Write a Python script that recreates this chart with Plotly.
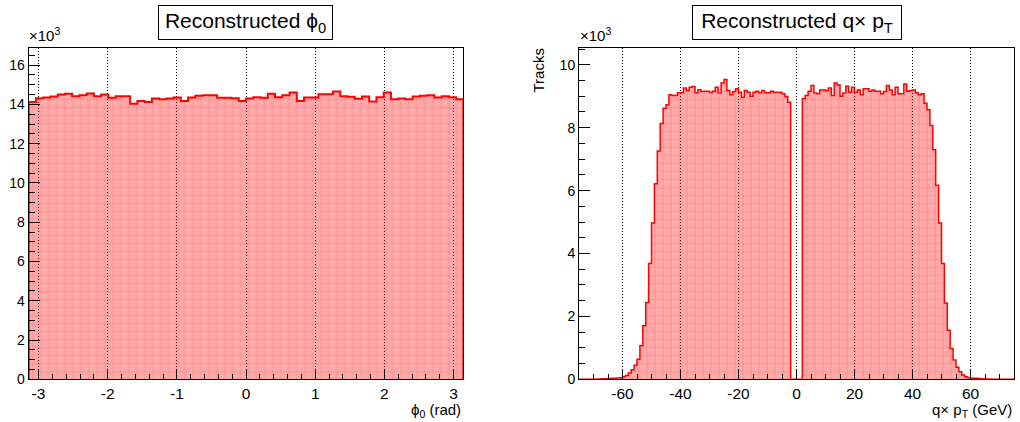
import math
import plotly.graph_objects as go

# ---- reconstructed phi0: 60 bins over [-pi, pi], counts in units of 10^3 tracks
phi0_nbins = 60
phi0_counts_k = [
    14.13, 14.32, 14.35, 14.40, 14.51, 14.54, 14.42, 14.47, 14.56, 14.42,
    14.51, 14.34, 14.42, 14.42, 14.03, 14.18, 14.13, 14.30, 14.27, 14.30,
    14.35, 14.17, 14.35, 14.44, 14.47, 14.47, 14.34, 14.34, 14.32, 14.17,
    14.30, 14.37, 14.34, 14.54, 14.37, 14.47, 14.61, 14.17, 14.35, 14.35,
    14.52, 14.52, 14.66, 14.42, 14.39, 14.29, 14.40, 14.15, 14.37, 14.61,
    14.27, 14.30, 14.27, 14.40, 14.44, 14.47, 14.35, 14.42, 14.37, 14.27,
]
phi0_ticks = [-3, -2, -1, 0, 1, 2, 3]
phi0_ticklabels = ["-3", "-2", "-1", "0", "1", "2", "3"]

# ---- reconstructed q x pT: 1 GeV bins over [-75, 75], counts in units of 10^3 tracks
qpt_low, qpt_high = -75, 75
qpt_counts_k = (
    # -75 .. -70
    [0, 0, 0, 0, 0, 0]
    # -69 .. -45
    + [0.01, 0.01, 0.02, 0.02, 0.02, 0.03, 0.03, 0.04, 0.05, 0.08,
       0.12, 0.20, 0.30, 0.45, 0.64, 1.07, 1.70, 2.44, 3.68, 4.97,
       6.22, 7.26, 8.13, 8.62, 8.73]
    # -44 .. -3
    + [9.05, 9.02, 9.02, 9.11, 9.11, 9.26, 9.18, 9.29, 9.31, 9.11,
       9.21, 9.16, 9.16, 9.16, 9.12, 9.16, 9.29, 9.10, 9.42, 9.53,
       9.18, 9.05, 9.15, 9.24, 9.13, 8.97, 9.18, 9.13, 9.00, 9.13,
       9.16, 9.11, 9.18, 9.11, 9.11, 9.16, 9.13, 9.13, 9.13, 9.08,
       8.99, 8.81]
    # -2 .. 1
    + [0, 0, 0, 0]
    # 2 .. 43
    + [8.92, 9.02, 9.16, 9.34, 9.10, 9.08, 9.20, 9.20, 9.18, 9.26,
       9.02, 9.42, 9.36, 9.00, 9.10, 9.32, 9.13, 9.29, 9.13, 9.20,
       9.05, 9.24, 9.24, 9.16, 9.20, 9.16, 9.16, 9.08, 9.15, 9.34,
       9.20, 9.05, 9.29, 9.08, 9.08, 9.39, 9.16, 9.18, 9.20, 9.11,
       9.05, 9.08]
    # 44 .. 66
    + [8.78, 8.57, 8.07, 7.30, 6.17, 4.97, 3.68, 2.43, 1.56, 0.98,
       0.61, 0.38, 0.24, 0.14, 0.08, 0.05, 0.04, 0.03, 0.03, 0.02,
       0.02, 0.01, 0.01]
    # 67 .. 74
    + [0, 0, 0, 0, 0, 0, 0, 0]
)
qpt_ticks = [-60, -40, -20, 0, 20, 40, 60]
qpt_ticklabels = ["-60", "-40", "-20", "0", "20", "40", "60"]

FONT = "Liberation Sans, Arial, Helvetica, sans-serif"
LINE = "#ff0000"
FILL = "rgba(255,0,0,0.33)"
HATCH = dict(shape="+", size=8, solidity=0.12,
             fgcolor="rgba(255,50,50,0.45)", bgcolor=FILL)


def bin_edges(lo, hi, n):
    w = (hi - lo) / n
    return [lo + i * w for i in range(n + 1)], w


def step_outline(edges, counts):
    # closed step contour: up at the first edge, along the tops, down at the last edge
    xs = [edges[0]] + list(edges[:-1]) + [edges[-1], edges[-1]]
    ys = [0] + list(counts) + [counts[-1], 0]
    return xs, ys


fig = go.Figure()

# left pad: phi0
phi_edges, phi_w = bin_edges(-math.pi, math.pi, phi0_nbins)
phi_centers = [e + phi_w / 2 for e in phi_edges[:-1]]
fig.add_trace(go.Bar(x=phi_centers, y=phi0_counts_k, width=phi_w,
                     marker=dict(color=FILL, line=dict(width=0), pattern=HATCH),
                     xaxis="x", yaxis="y", showlegend=False))
sx, sy = step_outline(phi_edges, phi0_counts_k)
fig.add_trace(go.Scatter(x=sx, y=sy, mode="lines", line=dict(color=LINE, width=2, shape="hv"),
                         xaxis="x", yaxis="y", showlegend=False))

# right pad: q x pT
qpt_edges, qpt_w = bin_edges(qpt_low, qpt_high, len(qpt_counts_k))
qpt_centers = [e + qpt_w / 2 for e in qpt_edges[:-1]]
fig.add_trace(go.Bar(x=qpt_centers, y=qpt_counts_k, width=qpt_w,
                     marker=dict(color=FILL, line=dict(width=0), pattern=HATCH),
                     xaxis="x2", yaxis="y2", showlegend=False))
sx, sy = step_outline(qpt_edges, qpt_counts_k)
fig.add_trace(go.Scatter(x=sx, y=sy, mode="lines", line=dict(color=LINE, width=1.5, shape="hv"),
                         xaxis="x2", yaxis="y2", showlegend=False))

W, H = 1020, 422
ydom = [(H - 379.3) / H, (H - 47.5) / H]

common_x = dict(showline=True, mirror=True, linecolor="black", linewidth=1, automargin=False,
                ticks="inside", ticklen=10, tickwidth=1, tickcolor="black",
                showgrid=True, griddash="1px,2px", gridcolor="black", gridwidth=1,
                zeroline=False, tickfont=dict(family=FONT, size=15.5, color="black"))
common_y = dict(showline=True, mirror=True, linecolor="black", linewidth=1, automargin=False,
                ticks="inside", ticklen=11, tickwidth=1, tickcolor="black",
                showgrid=False, zeroline=False, dtick=2, tick0=0,
                tickfont=dict(family=FONT, size=14, color="black"),
                minor=dict(ticks="inside", ticklen=6, dtick=0.5, tick0=0,
                           tickcolor="black", showgrid=False))

fig.update_layout(
    template="none",
    width=W, height=H,
    margin=dict(l=0, r=0, t=0, b=0, autoexpand=False),
    paper_bgcolor="white", plot_bgcolor="white",
    bargap=0, barmode="overlay",
    font=dict(family=FONT, color="black"),
    xaxis=dict(domain=[28.7 / W, 463.4 / W], range=[-math.pi, math.pi], anchor="y",
               tickvals=phi0_ticks, ticktext=phi0_ticklabels,
               minor=dict(ticks="inside", ticklen=5, dtick=0.2, tick0=0,
                          tickcolor="black", showgrid=False),
               **common_x),
    yaxis=dict(domain=ydom, range=[0, 16.9], anchor="x", **common_y),
    xaxis2=dict(domain=[579 / W, 1014 / W], range=[qpt_low, qpt_high], anchor="y2",
                tickvals=qpt_ticks, ticktext=qpt_ticklabels,
                minor=dict(ticks="inside", ticklen=5, dtick=5, tick0=0,
                           tickcolor="black", showgrid=False),
                **common_x),
    yaxis2=dict(domain=ydom, range=[0, 10.55], anchor="x2", **common_y),
)

annotations = [
    # pad titles in framed boxes
    dict(text="Reconstructed ϕ<sub>0</sub>", x=245.7 / W, y=1 - 22.5 / H,
         width=171, height=31, borderpad=1),
    dict(text="Reconstructed q× p<sub>T</sub>", x=797 / W, y=1 - 22.5 / H,
         width=206, height=31, borderpad=1),
]
for a in annotations:
    a.update(xref="paper", yref="paper", xanchor="center", yanchor="middle",
             showarrow=False, bordercolor="black", borderwidth=1, bgcolor="white",
             font=dict(family=FONT, size=21, color="black"))
    fig.add_annotation(**a)

# axis multipliers
for xl in (27 / W, 578 / W):
    fig.add_annotation(text="×10<sup>3</sup>", x=xl, y=1 - 46 / H, xref="paper", yref="paper",
                       xanchor="left", yanchor="bottom", showarrow=False,
                       font=dict(family=FONT, size=15, color="black"))

# axis titles
fig.add_annotation(text="ϕ<sub>0</sub> (rad)", x=463.4 / W, y=1 - 399 / H, xref="paper", yref="paper",
                   xanchor="right", yanchor="top", showarrow=False,
                   font=dict(family=FONT, size=15, color="black"))
fig.add_annotation(text="q× p<sub>T</sub> (GeV)", x=1014 / W, y=1 - 399 / H, xref="paper", yref="paper",
                   xanchor="right", yanchor="top", showarrow=False,
                   font=dict(family=FONT, size=15, color="black"))
fig.add_annotation(text="Tracks", x=537.5 / W, y=1 - 47 / H, xref="paper", yref="paper",
                   xanchor="center", yanchor="top", textangle=-90, showarrow=False,
                   font=dict(family=FONT, size=15, color="black"))

fig.write_html("out.html")
